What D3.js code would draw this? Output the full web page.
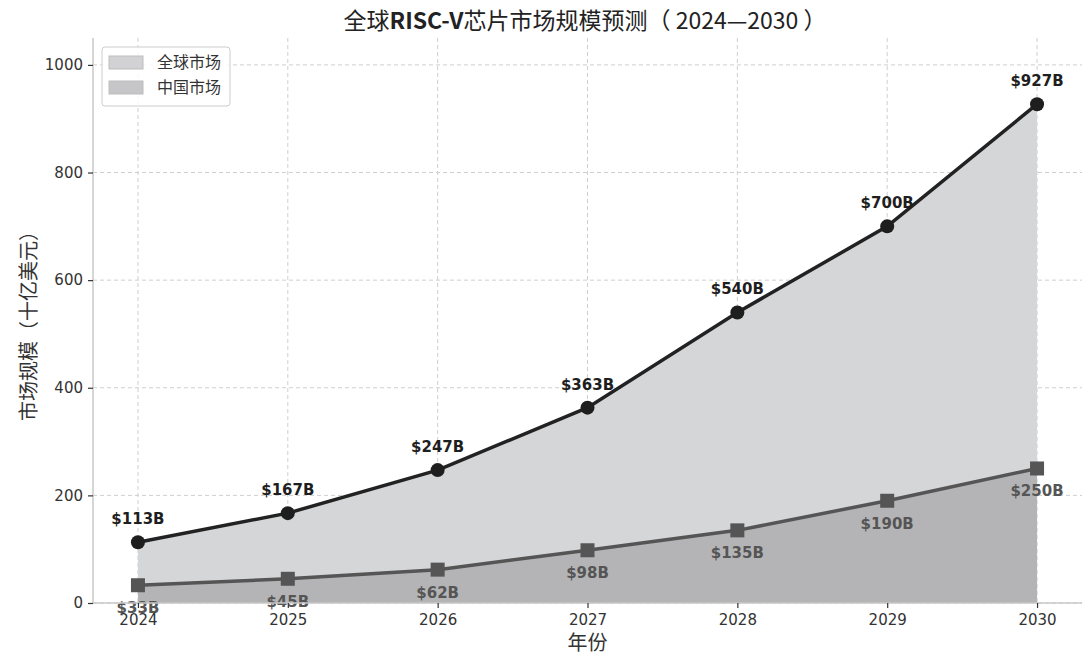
<!DOCTYPE html>
<html>
<head>
<meta charset="utf-8">
<script src="https://cdn.jsdelivr.net/npm/d3@7"></script>
<style>
  body { margin: 0; background: #fff; }
  #chart { width: 1084px; height: 657px; }
  text { font-family: 'DejaVu Sans', sans-serif; }
  .cjk { font-family: 'Noto Sans CJK SC', sans-serif; }
</style>
</head>
<body>
<div id="chart"></div>
<script>
// Chart data
const years = [2024, 2025, 2026, 2027, 2028, 2029, 2030]
const globalMarket = [113, 167, 247, 363, 540, 700, 927]
const chinaMarket = [33, 45, 62, 98, 135, 190, 250]
const yTicks = [0, 200, 400, 600, 800, 1000]
const legendLabels = ['全球市场', '中国市场']

const margin = { top: 38, right: 2, bottom: 54, left: 93 }
const width = 1084 - margin.left - margin.right
const height = 657 - margin.top - margin.bottom

const svg = d3.select('#chart').append('svg')
  .attr('width', 1084)
  .attr('height', 657)

const g = svg.append('g')
  .attr('transform', `translate(${margin.left},${margin.top})`)

// Scales
const xScale = d3.scaleLinear().domain([2023.7, 2030.3]).range([0, width])
const yScale = d3.scaleLinear().domain([0, 1050]).range([height, 0])

// Grid lines
g.append('g')
  .selectAll('line')
  .data(years)
  .enter().append('line')
  .attr('x1', d => xScale(d))
  .attr('x2', d => xScale(d))
  .attr('y1', 0)
  .attr('y2', height)
  .attr('stroke', '#cfcfcf')
  .attr('stroke-dasharray', '4,3')
g.append('g')
  .selectAll('line')
  .data(yTicks)
  .enter().append('line')
  .attr('x1', 0)
  .attr('x2', width)
  .attr('y1', d => yScale(d))
  .attr('y2', d => yScale(d))
  .attr('stroke', '#cfcfcf')
  .attr('stroke-dasharray', '4,3')

// Areas
const rows = years.map((y, i) => ({ year: y, global: globalMarket[i], china: chinaMarket[i] }))
const area = key => d3.area()
  .x(d => xScale(d.year))
  .y0(yScale(0))
  .y1(d => yScale(d[key]))

g.append('path')
  .datum(rows)
  .attr('d', area('global'))
  .attr('fill', '#d5d6d8')
g.append('path')
  .datum(rows)
  .attr('d', area('china'))
  .attr('fill', '#b4b4b6')

// Lines
const line = key => d3.line()
  .x(d => xScale(d.year))
  .y(d => yScale(d[key]))

g.append('path')
  .datum(rows)
  .attr('d', line('global'))
  .attr('fill', 'none')
  .attr('stroke', '#222')
  .attr('stroke-width', 3.5)
g.append('path')
  .datum(rows)
  .attr('d', line('china'))
  .attr('fill', 'none')
  .attr('stroke', '#555')
  .attr('stroke-width', 3.5)

// Markers
g.selectAll('.dot')
  .data(rows)
  .enter().append('circle')
  .attr('class', 'dot')
  .attr('cx', d => xScale(d.year))
  .attr('cy', d => yScale(d.global))
  .attr('r', 7)
  .attr('fill', '#1e1e1e')
g.selectAll('.sq')
  .data(rows)
  .enter().append('rect')
  .attr('class', 'sq')
  .attr('x', d => xScale(d.year) - 7)
  .attr('y', d => yScale(d.china) - 7)
  .attr('width', 14)
  .attr('height', 14)
  .attr('fill', '#555')

// Value labels
g.selectAll('.glabel')
  .data(rows)
  .enter().append('text')
  .attr('x', d => xScale(d.year))
  .attr('y', d => yScale(d.global) - 18)
  .attr('text-anchor', 'middle')
  .attr('font-size', 15)
  .attr('font-weight', 'bold')
  .attr('fill', '#1e1e1e')
  .text(d => `$${d.global}B`)
g.selectAll('.clabel')
  .data(rows)
  .enter().append('text')
  .attr('x', d => xScale(d.year))
  .attr('y', d => yScale(d.china) + 28)
  .attr('text-anchor', 'middle')
  .attr('font-size', 15)
  .attr('font-weight', 'bold')
  .attr('fill', '#555')
  .text(d => `$${d.china}B`)

// Axes
const xAxis = g.append('g')
  .attr('transform', `translate(0,${height})`)
  .call(d3.axisBottom(xScale).tickValues(years).tickFormat(d3.format('d')).tickSize(5).tickPadding(6))
const yAxis = g.append('g')
  .call(d3.axisLeft(yScale).tickValues(yTicks).tickFormat(d3.format('d')).tickSize(5).tickPadding(5))
;[xAxis, yAxis].forEach(a => {
  a.select('.domain').attr('stroke', '#c8c8c8').attr('stroke-width', 1.5)
  a.selectAll('.tick line').attr('stroke', '#333').attr('stroke-width', 1.2)
  a.selectAll('.tick text').attr('font-size', 15).attr('fill', '#333')
    .attr('font-family', 'DejaVu Sans, sans-serif')
})
// x axis spine runs only along the plot, y spine down to 0
xAxis.select('.domain').attr('d', `M0,0H${width}`)
yAxis.select('.domain').attr('d', `M0,0V${height}`)

// Axis labels
svg.append('text')
  .attr('class', 'cjk')
  .attr('x', margin.left + xScale(2027))
  .attr('y', 650)
  .attr('text-anchor', 'middle')
  .attr('font-size', 20)
  .attr('fill', '#333')
  .text('年份')
svg.append('text')
  .attr('class', 'cjk')
  .attr('transform', 'translate(36,321) rotate(-90)')
  .attr('text-anchor', 'middle')
  .attr('font-size', 20)
  .attr('fill', '#333')
  .text('市场规模（十亿美元）')

// Title
const title = svg.append('text')
  .attr('class', 'cjk')
  .attr('x', 585)
  .attr('y', 29)
  .attr('text-anchor', 'middle')
  .attr('font-size', 23)
  .attr('fill', '#222')
title.append('tspan').text('全球')
title.append('tspan').attr('font-weight', 'bold').text('RISC-V')
title.append('tspan').text('芯片市场规模预测（ 2024—2030 ）')

// Legend
const legend = svg.append('g').attr('transform', 'translate(102,47)')
legend.append('rect')
  .attr('width', 128)
  .attr('height', 59)
  .attr('rx', 3)
  .attr('fill', '#fff')
  .attr('fill-opacity', 0.85)
  .attr('stroke', '#ccc')
legendLabels.forEach((l, i) => {
  legend.append('rect')
    .attr('x', 7)
    .attr('y', 9 + i * 25)
    .attr('width', 34)
    .attr('height', 13)
    .attr('fill', i === 0 ? '#d2d2d4' : '#c6c6c8')
    .attr('stroke', '#bdbdbd')
  legend.append('text')
    .attr('class', 'cjk')
    .attr('x', 55)
    .attr('y', 21 + i * 25)
    .attr('font-size', 16)
    .attr('fill', '#333')
    .text(l)
})
</script>
</body>
</html>
